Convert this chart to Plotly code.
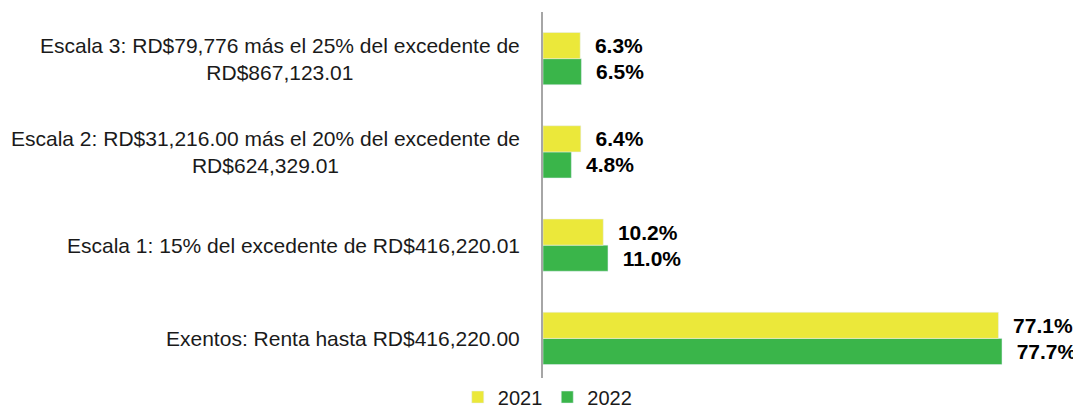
import plotly.graph_objects as go

categories = [
    "Exentos: Renta hasta RD$416,220.00",
    "Escala 1: 15% del excedente de RD$416,220.01",
    "Escala 2: RD$31,216.00 más el 20% del excedente de<br>RD$624,329.01",
    "Escala 3: RD$79,776 más el 25% del excedente de<br>RD$867,123.01",
]
cat_ids = ["Exentos", "Escala 1", "Escala 2", "Escala 3"]
values_2021 = [77.1, 10.2, 6.4, 6.3]
values_2022 = [77.7, 11.0, 4.8, 6.5]
series_names = ["2021", "2022"]

YELLOW = "#EBE83A"
GREEN = "#3AB54A"
FONT = "Liberation Sans, Arial, sans-serif"

fig = go.Figure()
lbl = "\u00a0\u00a0%{x:.1f}%"
fig.add_trace(go.Bar(
    y=cat_ids, x=values_2022, orientation="h", name=series_names[1],
    marker=dict(color=GREEN), legendrank=2,
    texttemplate=lbl, textposition="outside", cliponaxis=False,
    textfont=dict(family=FONT, size=21, color="#000000", weight="bold"),
))
fig.add_trace(go.Bar(
    y=cat_ids, x=values_2021, orientation="h", name=series_names[0],
    marker=dict(color=YELLOW), legendrank=1,
    texttemplate=lbl, textposition="outside", cliponaxis=False,
    textfont=dict(family=FONT, size=21, color="#000000", weight="bold"),
))

for cid, label in zip(cat_ids, categories):
    fig.add_annotation(
        x=-21 / 532, xref="paper", y=cid, yref="y",
        text=label, showarrow=False, xanchor="right", align="center",
        font=dict(family=FONT, size=21, color="#1a1a1a"),
    )

fig.update_layout(
    width=1073, height=403,
    margin=dict(l=535, r=6, t=4, b=26, autoexpand=False),
    paper_bgcolor="white", plot_bgcolor="white",
    barmode="group", bargap=0.44, bargroupgap=0,
    uniformtext=dict(mode=False),
    font=dict(family=FONT, size=21, color="#1a1a1a"),
    xaxis=dict(range=[0, 90.06], visible=False, showgrid=False, zeroline=False),
    yaxis=dict(showticklabels=False, showgrid=False, zeroline=False,
               showline=True, linecolor="#A6A6A6", linewidth=1.5, ticks=""),
    showlegend=True,
    legend=dict(orientation="h", x=0.008, xanchor="center", y=0.02, yanchor="top",
                font=dict(family=FONT, size=20, color="#1a1a1a"),
                itemwidth=30, tracegroupgap=0),
)

fig.write_html("out.html")
